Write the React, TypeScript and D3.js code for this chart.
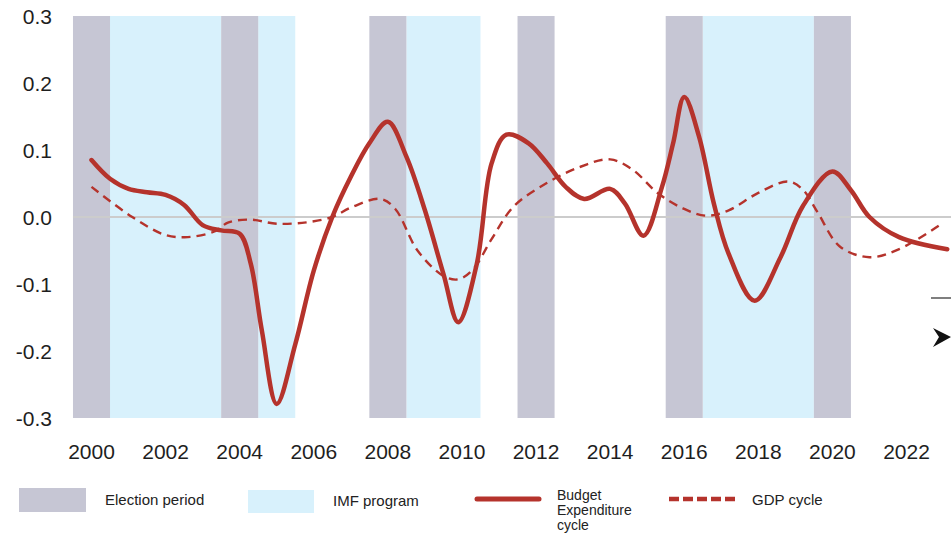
import * as d3 from 'd3'

const yearTicks = [2000, 2002, 2004, 2006, 2008, 2010, 2012, 2014, 2016, 2018, 2020, 2022]
const valueTicks = [0.3, 0.2, 0.1, 0.0, -0.1, -0.2, -0.3]

// [start, end] in years
const electionPeriods: [number, number][] = [
  [1999.5, 2000.5],
  [2003.5, 2004.5],
  [2007.5, 2008.5],
  [2011.5, 2012.5],
  [2015.5, 2016.5],
  [2019.5, 2020.5],
]
const imfPrograms: [number, number][] = [
  [2000.5, 2003.5],
  [2004.5, 2005.5],
  [2008.5, 2010.5],
  [2016.5, 2019.5],
]

const budgetYears = [
  2000.0, 2000.5, 2001.0, 2001.5, 2002.0, 2002.5, 2003.0, 2003.5, 2004.0, 2004.3, 2004.6,
  2005.0, 2005.5, 2006.0, 2006.5, 2007.0, 2007.5, 2008.0, 2008.5, 2009.0, 2009.5, 2009.9,
  2010.4, 2010.8, 2011.2, 2011.8, 2012.3, 2012.8, 2013.3, 2014.0, 2014.4, 2014.9, 2015.4,
  2015.7, 2016.0, 2016.4, 2016.8, 2017.2, 2017.9, 2018.6, 2019.2, 2020.0, 2020.5, 2021.0,
  2021.8, 2023.1,
]
const budgetValues = [
  0.085, 0.057, 0.042, 0.037, 0.033, 0.018, -0.012, -0.02, -0.025, -0.07, -0.17,
  -0.279, -0.19, -0.08, 0.0, 0.06, 0.11, 0.142, 0.09, 0.01, -0.085, -0.157,
  -0.07, 0.08, 0.123, 0.11, 0.08, 0.045, 0.027, 0.042, 0.02, -0.028, 0.045,
  0.11, 0.179, 0.12, 0.02, -0.055, -0.125, -0.06, 0.016, 0.068, 0.04, 0.0,
  -0.03, -0.048,
]

const gdpYears = [
  2000.0, 2001.1, 2002.0, 2002.6, 2003.3, 2003.7, 2004.3, 2005.0, 2005.8, 2006.5, 2007.0,
  2007.8, 2008.2, 2008.8, 2009.5, 2009.9, 2010.3, 2010.8, 2011.4, 2012.3, 2013.2, 2014.0,
  2014.6, 2015.3, 2016.0, 2016.6, 2017.2, 2018.0, 2018.8, 2019.2, 2019.6, 2020.2, 2021.0,
  2021.8, 2022.9,
]
const gdpValues = [
  0.045, 0.0, -0.027, -0.03, -0.022, -0.008, -0.004, -0.01, -0.008, 0.0, 0.014,
  0.027, 0.012, -0.05, -0.088, -0.093, -0.078, -0.033, 0.016, 0.051, 0.075, 0.086,
  0.071, 0.035, 0.012, 0.002, 0.01, 0.036, 0.053, 0.041, 0.007, -0.044, -0.06,
  -0.048, -0.012,
]

const W = 951
const H = 533
const RED = '#b5332c'
const GRAY = '#c6c6d4'
const BLUE = '#d8f1fc'
const FONT = '"Liberation Sans", Arial, Helvetica, sans-serif'

export default function App() {
  const x = d3.scaleLinear().domain([2000, 2022]).range([91.5, 906.5])
  const y = d3.scaleLinear().domain([-0.3, 0.3]).range([418, 16])

  const line = d3
    .line<[number, number]>()
    .x((d) => x(d[0]))
    .y((d) => y(d[1]))
    .curve(d3.curveCatmullRom.alpha(0.5))

  const budget = budgetYears.map((yr, i) => [yr, budgetValues[i]] as [number, number])
  const gdp = gdpYears.map((yr, i) => [yr, gdpValues[i]] as [number, number])

  return (
    <svg
      width={W}
      height={H}
      style={{ position: 'absolute', left: 0, top: 0, background: '#fff' }}
      fontFamily={FONT}
    >
      <g>
        {imfPrograms.map(([a, b], i) => (
          <rect key={'imf' + i} x={x(a)} y={y(0.3)} width={x(b) - x(a)} height={y(-0.3) - y(0.3)} fill={BLUE} />
        ))}
        {electionPeriods.map(([a, b], i) => (
          <rect key={'el' + i} x={x(a)} y={y(0.3)} width={x(b) - x(a)} height={y(-0.3) - y(0.3)} fill={GRAY} />
        ))}
      </g>

      <line x1={x(1999.5)} x2={W} y1={y(0)} y2={y(0)} stroke="#cccccc" strokeWidth={2} />

      <g fontSize={21} fill="#1e1e1e">
        {valueTicks.map((v) => (
          <text key={v} x={52} y={y(v)} textAnchor="end" dominantBaseline="central">
            {v.toFixed(1)}
          </text>
        ))}
        {yearTicks.map((yr) => (
          <text key={yr} x={x(yr)} y={451} textAnchor="middle" dominantBaseline="central">
            {yr}
          </text>
        ))}
      </g>

      <path d={line(gdp) ?? ''} fill="none" stroke={RED} strokeWidth={2.4} strokeDasharray="9 6" />
      <path d={line(budget) ?? ''} fill="none" stroke={RED} strokeWidth={4.5} strokeLinecap="round" />

      {/* stray marks at the right edge */}
      <line x1={931} x2={951} y1={298} y2={298} stroke="#555" strokeWidth={1.5} />
      <path d="M933,328 L951,337 L933,347 L939,337 Z" fill="#111" />

      {/* legend */}
      <g fontSize={15} fill="#222">
        <rect x={19} y={488} width={67} height={24} fill={GRAY} />
        <text x={105} y={499} dominantBaseline="central">Election period</text>
        <rect x={248} y={490} width={66} height={23} fill={BLUE} />
        <text x={333} y={500} dominantBaseline="central">IMF program</text>
        <line x1={477} x2={539} y1={499} y2={499} stroke={RED} strokeWidth={5} strokeLinecap="round" />
        <text x={557} fontSize={14}>
          <tspan x={557} y={500}>Budget</tspan>
          <tspan x={557} y={515}>Expenditure</tspan>
          <tspan x={557} y={530}>cycle</tspan>
        </text>
        <line x1={669} x2={736} y1={499} y2={499} stroke={RED} strokeWidth={4.5} strokeDasharray="10 4" />
        <text x={752} y={499} dominantBaseline="central">GDP cycle</text>
      </g>
    </svg>
  )
}
